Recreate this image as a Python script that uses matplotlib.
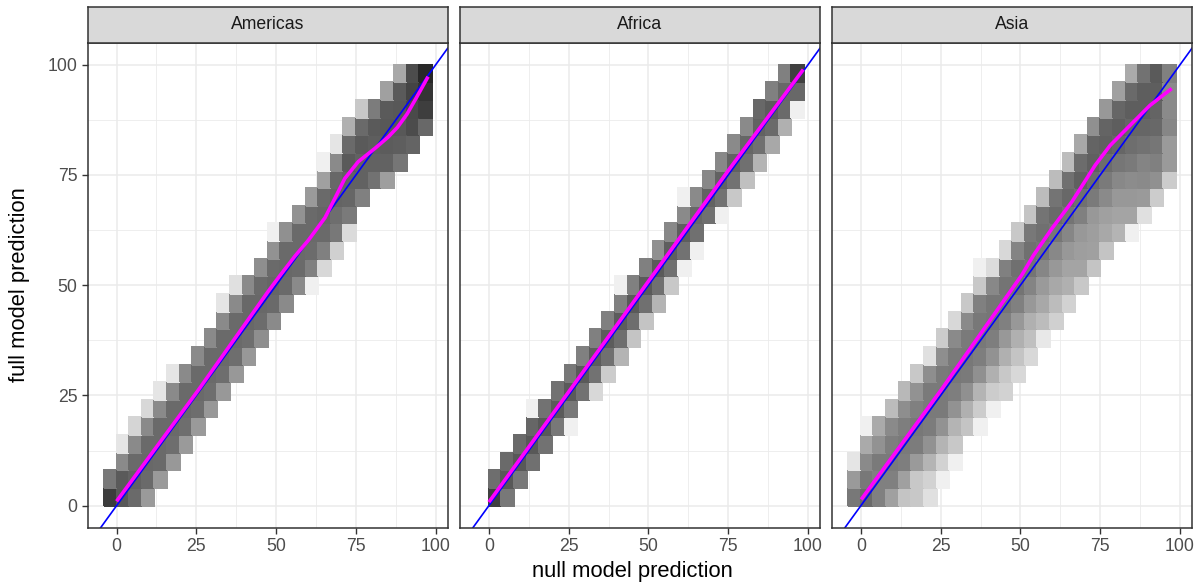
import numpy as np
import matplotlib.pyplot as plt
from matplotlib.ticker import MultipleLocator

plt.rcParams['font.family'] = ['Liberation Sans', 'DejaVu Sans']

regions = ['Americas', 'Africa', 'Asia']

# 2d bins: null model prediction (x) against full model prediction (y)
x_binwidth = 3.95
y_binwidth = 4.0
n_cols = 26   # columns start one bin below zero
n_rows = 25

# one entry per bin row, bottom to top: first filled column and grey level of each bin
americas_first_col = [-1, -1, 0, 0, 1, 2, 3, 4, 6, 7, 8, 8, 9, 11, 12, 12, 14, 15, 16, 16, 17, 18, 19, 21, 22]
americas_grey = [
    [0x3c, 0x58, 0x6a, 0x9a],
    [0x78, 0x5a, 0x62, 0x6a, 0x9a],
    [0x8a, 0x6a, 0x68, 0x6a, 0x98],
    [0xe5, 0x8a, 0x6a, 0x6a, 0x6e, 0x9a],
    [0xd5, 0x8a, 0x6a, 0x6a, 0x6e, 0x9a],
    [0xd8, 0x8a, 0x6a, 0x6a, 0x6e, 0x98],
    [0xe5, 0x8a, 0x6a, 0x6a, 0x6e, 0x98],
    [0xe5, 0x8a, 0x6a, 0x6a, 0x6e, 0x98],
    [0x8a, 0x6a, 0x6a, 0x6e, 0x98],
    [0x8a, 0x6a, 0x6a, 0x6e, 0x8e],
    [0x8a, 0x6a, 0x68, 0x6c, 0x8a],
    [0xe5, 0x8a, 0x68, 0x68, 0x6a, 0x8a],
    [0xe0, 0x8a, 0x6a, 0x66, 0x6a, 0x8a, 0xf0],
    [0x8e, 0x6a, 0x68, 0x6a, 0x80, 0xd8],
    [0x92, 0x6a, 0x6a, 0x6c, 0x80, 0xd0],
    [0xf0, 0x90, 0x6a, 0x6a, 0x6a, 0x78, 0xdb],
    [0x92, 0x6a, 0x66, 0x6e, 0x7a],
    [0x9a, 0x6a, 0x64, 0x66, 0x80],
    [0xa0, 0x68, 0x62, 0x62, 0x72, 0x9e],
    [0xf0, 0x8a, 0x5a, 0x62, 0x62, 0x62, 0x76],
    [0xe5, 0x6a, 0x5a, 0x5e, 0x5c, 0x5e, 0x64],
    [0xb0, 0x6a, 0x5a, 0x58, 0x58, 0x4c, 0x68],
    [0xc8, 0x7c, 0x5a, 0x58, 0x4a, 0x3e],
    [0xa0, 0x5a, 0x44, 0x34],
    [0xa8, 0x4c, 0x28],
]

africa_first_col = [0, 0, 1, 2, 3, 3, 5, 6, 7, 8, 9, 10, 10, 12, 13, 14, 15, 15, 17, 18, 19, 20, 21, 22, 23]
africa_grey = [
    [0x40, 0x78],
    [0x6e, 0x58, 0x78],
    [0x6a, 0x58, 0x70],
    [0x6a, 0x58, 0x72],
    [0x66, 0x58, 0x78, 0xf0],
    [0xf0, 0x72, 0x5a, 0x78],
    [0x72, 0x5a, 0x72, 0xd8],
    [0x78, 0x5a, 0x72, 0xcc],
    [0x80, 0x5c, 0x70, 0xb4],
    [0x80, 0x5c, 0x6e, 0xc4],
    [0x80, 0x5c, 0x6e, 0xc4],
    [0x80, 0x5a, 0x70, 0xb4],
    [0xf0, 0x80, 0x5a, 0x70, 0xc8],
    [0x80, 0x5a, 0x70, 0xf0],
    [0x90, 0x5e, 0x72, 0xf0],
    [0x88, 0x5e, 0x70],
    [0x8a, 0x68, 0x70, 0xf0],
    [0xf0, 0x8a, 0x62, 0x72, 0xc8],
    [0x88, 0x62, 0x72, 0xc0],
    [0x88, 0x62, 0x70, 0xb4],
    [0x8a, 0x66, 0x70, 0xa8],
    [0x8a, 0x62, 0x6a, 0xb0],
    [0x68, 0x5c, 0x6a, 0xf0],
    [0x80, 0x68, 0x68],
    [0x80, 0x40],
]

asia_first_col = [-1, -1, -1, 0, 0, 2, 3, 4, 5, 6, 7, 8, 9, 9, 11, 12, 13, 14, 15, 16, 17, 18, 19, 20, 21]
asia_grey = [
    [0x78, 0x6a, 0x80, 0xa0, 0xc4, 0xc8, 0xe0],
    [0x9a, 0x78, 0x80, 0x80, 0xa0, 0xc8, 0xd2, 0xf0],
    [0xe5, 0x8a, 0x7a, 0x7a, 0x7e, 0x9a, 0xb4, 0xd2, 0xf0],
    [0xaa, 0x92, 0x7e, 0x7a, 0x7c, 0x92, 0xb4, 0xc8],
    [0xf0, 0xaa, 0x8a, 0x7e, 0x78, 0x7c, 0x92, 0xb4, 0xc4, 0xf0],
    [0xbc, 0x8e, 0x80, 0x7a, 0x7a, 0x92, 0xb0, 0xcc, 0xf0],
    [0xb8, 0x92, 0x7a, 0x7a, 0x7e, 0x90, 0xb4, 0xcc, 0xd2],
    [0xc8, 0x8e, 0x7a, 0x78, 0x7a, 0x90, 0xb0, 0xc8, 0xd8],
    [0xe0, 0x8e, 0x7a, 0x78, 0x7e, 0x92, 0xb0, 0xc4, 0xd8],
    [0xcc, 0x8a, 0x7a, 0x78, 0x7e, 0x98, 0xb0, 0xc0, 0xe8],
    [0xd8, 0x8a, 0x78, 0x76, 0x80, 0x98, 0xb0, 0xbc, 0xd0],
    [0xc8, 0x80, 0x76, 0x76, 0x80, 0x98, 0xa8, 0xbc, 0xd2],
    [0xc8, 0x88, 0x74, 0x74, 0x84, 0x9a, 0xa8, 0xb0, 0xc8],
    [0xf0, 0xdc, 0x80, 0x70, 0x74, 0x86, 0x98, 0xa4, 0xa4, 0xc4],
    [0xd8, 0x84, 0x70, 0x76, 0x88, 0x98, 0x9e, 0xa0, 0xc4],
    [0xc8, 0x78, 0x70, 0x76, 0x86, 0x98, 0x9e, 0xa8, 0xb4, 0xf0],
    [0xc4, 0x74, 0x6a, 0x74, 0x80, 0x98, 0xa0, 0xa4, 0xa4, 0xe0],
    [0xbc, 0x74, 0x68, 0x70, 0x7a, 0x8a, 0x98, 0x98, 0x9a, 0xcc],
    [0xbc, 0x70, 0x60, 0x6c, 0x7a, 0x88, 0x8c, 0x8a, 0x90, 0xcc],
    [0xbc, 0x6c, 0x60, 0x6c, 0x76, 0x7a, 0x84, 0x80, 0x9a],
    [0xa8, 0x64, 0x60, 0x66, 0x6e, 0x72, 0x76, 0x9a],
    [0x90, 0x64, 0x5e, 0x66, 0x66, 0x68, 0x86],
    [0x98, 0x66, 0x5e, 0x5e, 0x64, 0x8a],
    [0xa0, 0x6a, 0x5e, 0x5e, 0x8a],
    [0xaa, 0x72, 0x5a, 0x80],
]

# loess fits (magenta)
americas_smooth_x = [0.0, 25.7, 47.5, 51.0, 55.9, 60.1, 65.3, 68.4, 71.5, 75.7, 80.9, 85.1, 88.0, 91.0, 94.0, 97.6]
americas_smooth_y = [1.0, 26.3, 48.6, 52.0, 56.6, 60.2, 65.3, 69.7, 74.2, 78.0, 81.0, 83.6, 85.8, 88.8, 92.6, 97.3]
africa_smooth_x = [0.0, 25.0, 50.0, 75.0, 98.5]
africa_smooth_y = [0.8, 25.8, 50.9, 76.0, 98.9]
asia_smooth_x = [0.1, 25.2, 47.5, 50.5, 54.1, 59.9, 66.1, 73.4, 78.1, 84.4, 90.6, 97.4]
asia_smooth_y = [1.4, 26.3, 49.3, 52.4, 56.8, 62.9, 68.9, 77.2, 81.7, 86.3, 90.8, 94.6]

first_cols = [americas_first_col, africa_first_col, asia_first_col]
greys = [americas_grey, africa_grey, asia_grey]
smooth_x = [americas_smooth_x, africa_smooth_x, asia_smooth_x]
smooth_y = [americas_smooth_y, africa_smooth_y, asia_smooth_y]


def bin_grid(first_col, grey):
    grid = np.full((n_rows, n_cols), np.nan)
    for r, (c0, row) in enumerate(zip(first_col, grey)):
        grid[r, c0 + 1:c0 + 1 + len(row)] = row
    return np.ma.masked_invalid(grid)


x_edges = (np.arange(n_cols + 1) - 1) * x_binwidth
y_edges = np.arange(n_rows + 1) * y_binwidth

W, H = 1204, 587
fig = plt.figure(figsize=(W / 100, H / 100), dpi=100)

panel_left = [87.7, 460.0, 832.0]
panel_w = 360.0
panel_top, panel_bottom = 42.7, 527.7
strip_top = 6.7

for i, region in enumerate(regions):
    l = panel_left[i]
    ax = fig.add_axes([l / W, (H - panel_bottom) / H, panel_w / W, (panel_bottom - panel_top) / H])
    ax.pcolormesh(x_edges, y_edges, bin_grid(first_cols[i], greys[i]),
                  cmap='gray', vmin=0, vmax=255, edgecolors='face', linewidth=0.3,
                  antialiased=False, zorder=1)
    ax.axline((0, 0), slope=1, color='#0000FF', lw=1.2, zorder=2)
    ax.plot(smooth_x[i], smooth_y[i], color='#FF00FF', lw=2.6, zorder=3,
            solid_capstyle='butt', solid_joinstyle='round')

    ax.set_xlim(-9.05, 103.75)
    ax.set_ylim(-5, 105)
    ax.xaxis.set_major_locator(MultipleLocator(25))
    ax.yaxis.set_major_locator(MultipleLocator(25))
    ax.xaxis.set_minor_locator(MultipleLocator(12.5))
    ax.yaxis.set_minor_locator(MultipleLocator(12.5))
    ax.grid(which='major', color='#EBEBEB', lw=1.1)
    ax.grid(which='minor', color='#EBEBEB', lw=0.6)
    ax.set_axisbelow(True)
    ax.tick_params(which='major', length=4.5, width=1.0, color='#333333',
                   labelsize=12.7, labelcolor='#4D4D4D', pad=3)
    ax.tick_params(which='minor', length=0)
    if i > 0:
        ax.tick_params(axis='y', labelleft=False, length=0)
    for s in ax.spines.values():
        s.set_color('#333333')
        s.set_linewidth(1.1)

    strip = fig.add_axes([l / W, (H - panel_top) / H, panel_w / W, (panel_top - strip_top) / H])
    strip.set_facecolor('#D9D9D9')
    strip.set_xticks([])
    strip.set_yticks([])
    for s in strip.spines.values():
        s.set_color('#333333')
        s.set_linewidth(1.1)
    strip.text(0.5, 0.5, region, ha='center', va='center', fontsize=12.7,
               color='#1A1A1A', transform=strip.transAxes)

fig.text(20 / W, 1 - 285 / H, 'full model prediction', rotation=90,
         ha='center', va='center', fontsize=15.8)
fig.text(632 / W, 1 - 572 / H, 'null model prediction',
         ha='center', va='center', fontsize=15.8)

fig.savefig('out.png', dpi=100)
